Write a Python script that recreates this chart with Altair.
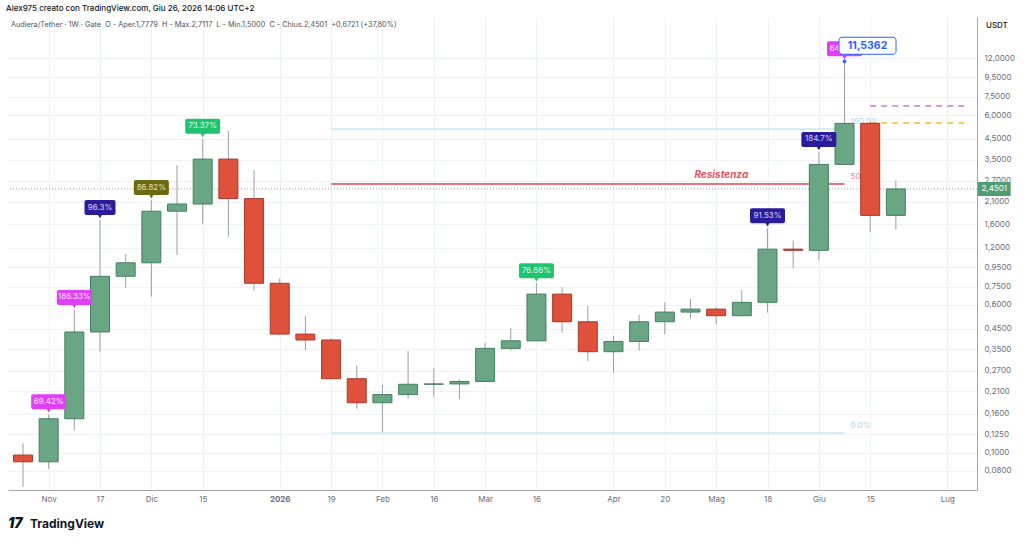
import altair as alt
import pandas as pd

# ---------------- data (weekly candles, Audiera/Tether) ----------------
weeks = list(range(35))  # week index: 0 = 27 Oct 2025 ... 34 = 22 Jun 2026
opens  = [0.0970,0.0894,0.1507,0.432,0.849,1.00,1.87,2.04,3.52,2.18,0.78,0.421,0.392,0.245,0.183,0.202,0.229,0.230,0.237,0.354,0.388,0.684,0.489,0.340,0.385,0.489,0.550,0.570,0.526,0.619,1.18,1.163,3.30,5.43,1.7779]
highs  = [0.112,0.159,0.564,1.68,1.11,2.14,3.27,4.50,4.95,3.08,0.828,0.524,0.40,0.288,0.227,0.344,0.278,0.2435,0.379,0.452,0.780,0.742,0.592,0.411,0.532,0.619,0.647,0.587,0.718,1.52,1.31,3.84,11.5362,5.55,2.7117]
lows   = [0.0659,0.0819,0.131,0.340,0.739,0.663,1.10,1.61,1.37,0.713,0.415,0.347,0.243,0.170,0.128,0.192,0.197,0.191,0.236,0.344,0.386,0.428,0.304,0.263,0.344,0.420,0.508,0.474,0.525,0.546,0.935,1.03,3.29,1.45,1.50]
closes = [0.0894,0.1507,0.432,0.849,1.00,1.87,2.04,3.52,2.18,0.78,0.421,0.392,0.245,0.183,0.202,0.229,0.230,0.237,0.354,0.388,0.684,0.489,0.340,0.385,0.489,0.550,0.570,0.526,0.619,1.18,1.163,3.30,5.43,1.7779,2.4501]

x_tick_idx = [1, 3, 5, 7, 10, 12, 14, 16, 18, 20, 23, 25, 27, 29, 31, 33, 36]
x_tick_lab = ["Nov", "17", "Dic", "15", "2026", "19", "Feb", "16", "Mar", "16", "Apr", "20", "Mag", "18", "Giu", "15", "Lug"]
y_ticks = [0.08, 0.1, 0.125, 0.16, 0.21, 0.27, 0.35, 0.45, 0.6, 0.75, 0.95, 1.2, 1.6, 2.1, 2.7, 3.5, 4.5, 6, 7.5, 9.5, 12]

lab_idx = [1, 2, 3, 5, 7, 20, 29, 31, 32]
lab_text = ["69.42%", "186.33%", "96.3%", "86.82%", "73.37%", "76.86%", "91.53%", "184.7%", "64.86%"]
lab_kind = ["mag", "mag", "ind", "oli", "grn", "grn", "ind", "ind", "mag"]

fib_start, fib_end = 12, 32
fib_levels = [5.07, 2.60, 0.1267]
fib_texts = ["100.0%", "50.0%", "0.0%"]
dash_levels = [6.70, 5.45]
last_price = 2.4501
ath = 11.5362

# ---------------- styles ----------------
GREEN, GREEN_S = "#6aa584", "#44805f"
RED, RED_S = "#e0513b", "#a9392a"
BOX = {"mag": ("#e040f5", "#fde0ff"), "ind": ("#2b1c9b", "#d8d5fa"),
       "oli": ("#6b6a0e", "#e6e5b0"), "grn": ("#1fc471", "#dcf8e8")}
FONT = "Inter"
NB = "\u00a0"

W, H = 969, 473
xs = alt.Scale(domain=[-0.584, 37.16], nice=False, zero=False, padding=0)
ys = alt.Scale(type="log", domain=[0.06348, 19.74], nice=False, padding=0)

xexpr = " : ".join(f"datum.value == {v} ? '{l}'" for v, l in zip(x_tick_idx, x_tick_lab)) + " : ''"
xaxis = alt.Axis(values=x_tick_idx, labelExpr=xexpr, title=None, grid=True, gridColor="#eef1f6",
                 domainColor="#a3a6af", ticks=False, labelFontSize=8, labelColor="#6a6d78",
                 labelPadding=5, labelOverlap=False, labelFont=FONT,
                 labelFontWeight={"condition": {"test": "datum.value == 10", "value": "bold"}, "value": "normal"})
yaxis = alt.Axis(orient="right", values=y_ticks, title=None, grid=True, gridColor="#eef1f6",
                 labelExpr="replace(format(datum.value, '.4f'), '.', ',')",
                 domainColor="#a3a6af", ticks=False, labelFontSize=8, labelColor="#6a6d78",
                 labelPadding=7, labelOverlap=False, labelFont=FONT)


def X(f):
    return alt.X(f, type="quantitative", scale=xs, axis=xaxis)


def Y(f):
    return alt.Y(f, type="quantitative", scale=ys, axis=yaxis)


df = pd.DataFrame({"i": weeks, "open": opens, "high": highs, "low": lows, "close": closes})
df["dir"] = ["up" if c >= o else "down" for o, c in zip(opens, closes)]

layers = []

# fib / resistance lines
fib_df = pd.DataFrame({"x": [fib_start] * 3, "x2": [fib_end] * 3, "y": fib_levels,
                       "t": fib_texts, "c": ["#a9dcee", "#d94555", "#a9dcee"],
                       "tc": ["#a9d8ea", "#e88a96", "#a9d8ea"], "w": [1, 1.5, 1]})
layers.append(alt.Chart(fib_df).mark_rule().encode(
    x=X("x"), x2="x2", y=Y("y"), color=alt.Color("c:N", scale=None),
    strokeWidth=alt.StrokeWidth("w:Q", scale=None)))
layers.append(alt.Chart(fib_df).mark_text(align="left", dx=6, dy=-7, fontSize=8, font=FONT).encode(
    x=X("x2"), y=Y("y"), text="t:N", color=alt.Color("tc:N", scale=None)))
res_df = pd.DataFrame({"x": [27.2], "y": [fib_levels[1]], "t": ["Resistenza"]})
layers.append(alt.Chart(res_df).mark_text(fontSize=10, fontStyle="italic", fontWeight="bold",
                                          color="#f04e60", dy=-9, font=FONT).encode(
    x=X("x"), y=Y("y"), text="t:N"))

# current price dotted line
pdf = pd.DataFrame({"p": [last_price]})
layers.append(alt.Chart(pdf).mark_rule(strokeDash=[1, 2], color="#9aa3ad").encode(y=Y("p")))

# dashed target lines
dash_df = pd.DataFrame({"x": [33, 33], "x2": [36.81, 36.81], "y": dash_levels, "c": ["#c27ad8", "#f2b632"]})
layers.append(alt.Chart(dash_df).mark_rule(strokeDash=[6, 5], strokeWidth=1.5).encode(
    x=X("x"), x2="x2", y=Y("y"), color=alt.Color("c:N", scale=None)))

# candles
layers.append(alt.Chart(df).mark_rule(color="#9a9ea6", strokeWidth=1).encode(x=X("i"), y=Y("low"), y2="high"))
layers.append(alt.Chart(df).mark_bar(size=19, strokeWidth=1).encode(
    x=X("i"), y=Y("open"), y2="close",
    color=alt.Color("dir:N", scale=alt.Scale(domain=["up", "down"], range=[GREEN, RED]), legend=None),
    stroke=alt.Stroke("dir:N", scale=alt.Scale(domain=["up", "down"], range=[GREEN_S, RED_S]), legend=None)))

# percentage callouts
for i, t, k in zip(lab_idx, lab_text, lab_kind):
    fill, tcol = BOX[k]
    row = pd.DataFrame({"i": [i], "h": [highs[i]], "t": [t]})
    w = 31 if len(t) <= 5 else 35
    base = alt.Chart(row)
    layers.append(base.mark_point(shape="triangle-down", filled=True, size=28, opacity=1,
                                  color=fill, yOffset=-4).encode(x=X("i"), y=Y("h")))
    layers.append(base.mark_rect(width=w, height=15, cornerRadius=2, color=fill, yOffset=-12.5).encode(
        x=X("i"), y=Y("h")))
    layers.append(base.mark_text(fontSize=8, color=tcol, yOffset=-12.5, font=FONT).encode(
        x=X("i"), y=Y("h"), text="t:N"))

# all-time high callout
ath_df = pd.DataFrame({"i": [32], "h": [ath], "t": ["11,5362"]})
layers.append(alt.Chart(ath_df).mark_circle(size=14, color="#2962ff", opacity=1).encode(x=X("i"), y=Y("h")))
layers.append(alt.Chart(ath_df).mark_rect(width=57, height=17, cornerRadius=3, fill="white", stroke="#2962ff",
                                          strokeWidth=1, xOffset=23, yOffset=-15.5).encode(x=X("i"), y=Y("h")))
layers.append(alt.Chart(ath_df).mark_text(fontSize=10.5, fontWeight="bold", color="#2962ff",
                                          xOffset=23, yOffset=-15.5, font=FONT).encode(
    x=X("i"), y=Y("h"), text="t:N"))

# price tag on the axis
tag_df = pd.DataFrame({"x": [37.83], "p": [last_price], "t": ["2,4501"]})
layers.append(alt.Chart(tag_df).mark_rect(width=33, height=14, color="#4f9c75").encode(x=X("x"), y=Y("p")))
layers.append(alt.Chart(tag_df).mark_text(fontSize=8, color="white", font=FONT).encode(
    x=X("x"), y=Y("p"), text="t:N"))

# header / footer texts
hdr_texts = ["Alex975 creato con TradingView.com, Giu 26, 2026 14:06 UTC+2",
             f"Audiera/Tether · 1W · Gate{NB}{NB}O - Aper.1,7779{NB}{NB}H - Max.2,7117{NB}{NB}L - Min.1,5000{NB}{NB}C - Chius.2,4501{NB}{NB}+0,6721 (+37,80%)",
             "USDT"]
hdr_px = [-2, 3, 978]
hdr_py = [-8, 8, 9]
hdr_sz = [8, 7.3, 8]
hdr_c = ["#131722", "#50535e", "#131722"]
hdr_fw = [500, 400, 500]
for t, px, py, sz, c, fw in zip(hdr_texts, hdr_px, hdr_py, hdr_sz, hdr_c, hdr_fw):
    layers.append(alt.Chart(pd.DataFrame({"t": [t]})).mark_text(
        align="left", baseline="middle", fontSize=sz, color=c, fontWeight=fw, font=FONT).encode(
        x=alt.value(px), y=alt.value(py), text="t:N"))
layers.append(alt.Chart(pd.DataFrame({"t": ["TradingView"]})).mark_text(
    align="left", baseline="middle", fontSize=12, fontWeight="bold", color="#131722", font=FONT).encode(
    x=alt.value(22), y=alt.value(507), text="t:N"))
layers.append(alt.Chart(pd.DataFrame({"t": ["17"]})).mark_text(
    align="left", baseline="middle", fontSize=14, fontWeight=900, color="#131722", font=FONT,
    fontStyle="italic").encode(x=alt.value(0), y=alt.value(507), text="t:N"))

chart = alt.layer(*layers).properties(
    width=W, height=H, autosize=alt.AutoSizeParams(type="none"),
    padding={"left": 8, "top": 17, "right": 47, "bottom": 53},
    background="white",
).configure_view(strokeWidth=0)

chart.save("out.html", embed_options={"renderer": "svg", "actions": False})
